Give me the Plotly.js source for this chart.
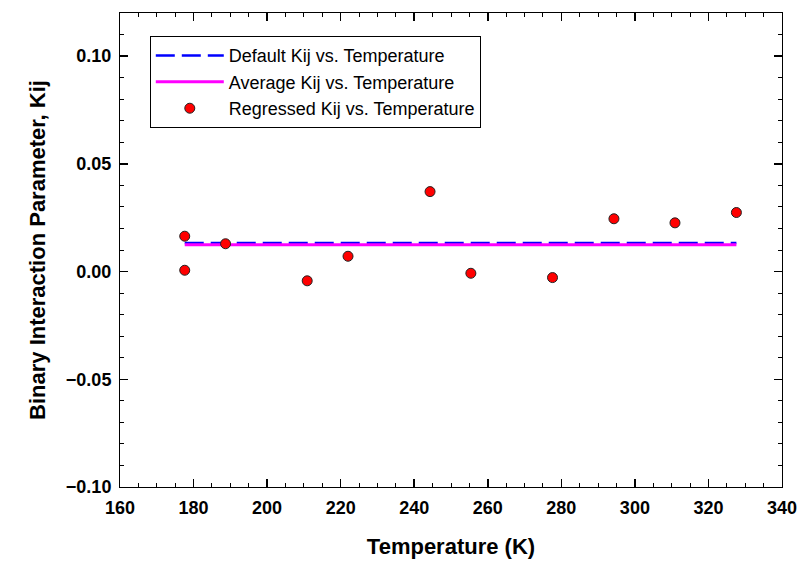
<!DOCTYPE html>
<html>
<head>
<meta charset="utf-8">
<script src="https://cdn.plot.ly/plotly-3.0.1.min.js"></script>
<style>html,body{margin:0;padding:0;background:#fff;}#chart{width:802px;height:570px;}</style>
</head>
<body>
<div id="chart"></div>
<script>
// Data
const temperature = [177.6, 177.6, 188.7, 210.9, 222.0, 244.3, 255.4, 277.6, 294.3, 310.9, 327.6];
const regressedKij = [0.0164, 0.0006, 0.0129, -0.0043, 0.0071, 0.0371, -0.0008, -0.0028, 0.0245, 0.0226, 0.0274];
const defaultKij = 0.0133;
const averageKij = 0.0124;
const seriesNames = ["Default Kij vs. Temperature", "Average Kij vs. Temperature", "Regressed Kij vs. Temperature"];

const tEnds = [temperature[0], temperature[temperature.length - 1]];
const FONT = '"Liberation Sans", Arial, sans-serif';

const traces = [
  {
    x: tEnds, y: [defaultKij, defaultKij], mode: 'lines', name: seriesNames[0],
    line: {color: '#0000ff', width: 2.5, dash: '19px,7px'}
  },
  {
    x: tEnds, y: [averageKij, averageKij], mode: 'lines', name: seriesNames[1],
    line: {color: '#ff00ff', width: 3}
  },
  {
    x: temperature, y: regressedKij, mode: 'markers', name: seriesNames[2],
    marker: {color: '#ff0000', size: 10, line: {color: '#222', width: 1}}
  }
];

const axisCommon = {
  showline: true, linecolor: '#000', linewidth: 1, mirror: 'ticks',
  ticks: 'inside', ticklen: 8, tickwidth: 1.5, tickcolor: '#000',
  showgrid: false, zeroline: false,
  tickfont: {family: FONT, size: 18, color: '#000', weight: 'bold'}
};

const layout = {
  width: 802, height: 570,
  margin: {l: 120, r: 20, t: 13, b: 83},
  paper_bgcolor: '#fff', plot_bgcolor: '#fff',
  showlegend: true,
  legend: {
    x: 0.045, y: 0.951, xanchor: 'left', yanchor: 'top',
    bgcolor: '#fff', bordercolor: '#000', borderwidth: 1,
    font: {family: FONT, size: 18, color: '#000'},
    itemwidth: 68, tracegroupgap: 0
  },
  xaxis: Object.assign({}, axisCommon, {
    range: [160, 340], dtick: 20, tick0: 160,
    minor: {ticks: 'inside', dtick: 5, ticklen: 4, tickcolor: '#000', tickwidth: 1},
    ticklabelstandoff: 4,
    title: {text: 'Temperature (K)', font: {family: FONT, size: 22, color: '#000', weight: 'bold'}, standoff: 22}
  }),
  yaxis: Object.assign({}, axisCommon, {
    range: [-0.10, 0.12], dtick: 0.05, tick0: 0, tickformat: '.2f',
    minor: {ticks: 'inside', dtick: 0.01, ticklen: 4, tickcolor: '#000', tickwidth: 1},
    ticklabelstandoff: 4,
    title: {text: 'Binary Interaction Parameter, Kij', font: {family: FONT, size: 22, color: '#000', weight: 'bold'}, standoff: 14}
  })
};

Plotly.newPlot('chart', traces, layout, {displayModeBar: false, staticPlot: true});
</script>
</body>
</html>
